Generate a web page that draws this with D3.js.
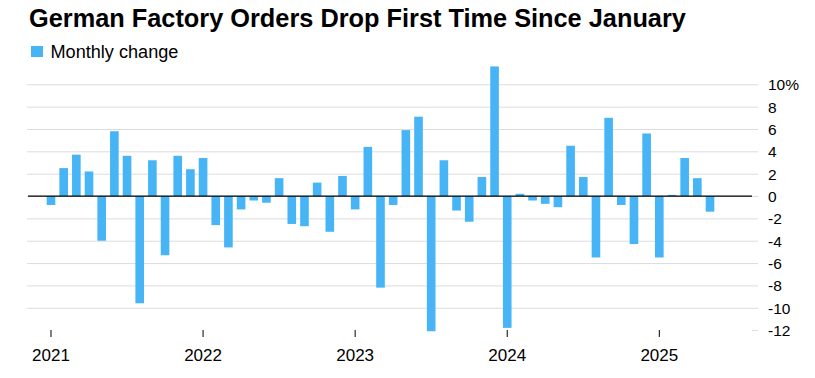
<!DOCTYPE html>
<html>
<head>
<meta charset="utf-8">
<script src="https://cdn.jsdelivr.net/npm/d3@7"></script>
<style>
  html, body { margin: 0; padding: 0; background: #fff; }
  svg { display: block; font-family: "Liberation Sans", Arial, Helvetica, sans-serif; }
</style>
</head>
<body>
<svg id="chart" width="815" height="378"></svg>
<script>
const title = "German Factory Orders Drop First Time Since January";
const seriesName = "Monthly change";
// Months Jan 2021 .. May 2025
const months = d3.timeMonths(new Date(2021, 0, 1), new Date(2025, 5, 1));
const values = [
  -0.8, 2.5, 3.7, 2.2, -4.0, 5.8, 3.6, -9.6, 3.2, -5.3, 3.6, 2.4,
  3.4, -2.6, -4.6, -1.2, -0.4, -0.6, 1.6, -2.5, -2.7, 1.2, -3.2, 1.8,
  -1.2, 4.4, -8.2, -0.8, 5.9, 7.1, -12.1, 3.2, -1.3, -2.3, 1.7, 11.6,
  -11.8, 0.2, -0.4, -0.7, -1.0, 4.5, 1.7, -5.5, 7.0, -0.8, -4.3, 5.6,
  -5.5, 0.1, 3.4, 1.6, -1.4
];
const yTicks = [-12, -10, -8, -6, -4, -2, 0, 2, 4, 6, 8, 10];
const yearTicks = [2021, 2022, 2023, 2024, 2025];

const data = months.map((m, i) => ({ month: m, value: values[i] }));

const svg = d3.select("#chart");
const barColor = "#47b4f6";
const fontFam = '"Liberation Sans", Arial, Helvetica, sans-serif';

// Title
const t = svg.append("text")
  .attr("x", 29).attr("y", 27)
  .attr("font-weight", "bold")
  .attr("font-size", 23)
  .attr("fill", "#000")
  .text(title);
const tw = t.node().getComputedTextLength();
t.attr("font-size", 23 * 657 / tw);

// Legend
svg.append("rect").attr("x", 31).attr("y", 46).attr("width", 12).attr("height", 11).attr("fill", barColor);
const lg = svg.append("text").attr("x", 50.5).attr("y", 57.5).attr("font-size", 17).attr("fill", "#000").text(seriesName);
const lw = lg.node().getComputedTextLength();
lg.attr("font-size", 17 * 128 / lw);

// Scales
const x = d3.scaleBand()
  .domain(months.map(d => +d))
  .range([44.66, 716.34])
  .paddingInner(0.32)
  .paddingOuter(0.16);
const y = d3.scaleLinear().domain([-12, 10]).range([330.1, 84.3]);

// Y axis with gridlines
const gridLeft = 27, gridRight = 758;
const yAxis = d3.axisRight(y)
  .tickValues(yTicks)
  .tickSize(-(gridRight - gridLeft))
  .tickPadding(10)
  .tickFormat(d => d === 10 ? "10%" : String(d));
const gy = svg.append("g").attr("transform", `translate(${gridRight},0)`).call(yAxis);
gy.select(".domain").remove();
gy.selectAll(".tick line").attr("stroke", "#dcdcdc").attr("stroke-width", 1)
  .filter(d => d === -12).attr("x2", -6);
gy.selectAll(".tick text")
  .attr("font-size", 15.5)
  .attr("font-family", fontFam)
  .attr("fill", "#000")
  .attr("dy", "0.35em");

// Bars
svg.append("g").selectAll("rect").data(data).join("rect")
  .attr("x", d => x(+d.month))
  .attr("width", x.bandwidth())
  .attr("y", d => y(Math.max(0, d.value)))
  .attr("height", d => Math.max(0.8, Math.abs(y(d.value) - y(0))))
  .attr("fill", barColor);

// Zero line
svg.append("line")
  .attr("x1", 28).attr("x2", 752)
  .attr("y1", y(0)).attr("y2", y(0))
  .attr("stroke", "#000").attr("stroke-width", 1.2);

// X axis
const yearMonths = yearTicks.map(yr => +new Date(yr, 0, 1));
const xAxis = d3.axisBottom(x)
  .tickValues(yearMonths)
  .tickSize(7)
  .tickPadding(12)
  .tickFormat(d => new Date(d).getFullYear());
const gx = svg.append("g").attr("transform", "translate(0,330)").call(xAxis);
gx.select(".domain").remove();
gx.selectAll(".tick line").attr("stroke", "#000").attr("stroke-width", 1);
gx.selectAll(".tick text")
  .attr("font-size", 17)
  .attr("font-family", fontFam)
  .attr("fill", "#000");
</script>
</body>
</html>
